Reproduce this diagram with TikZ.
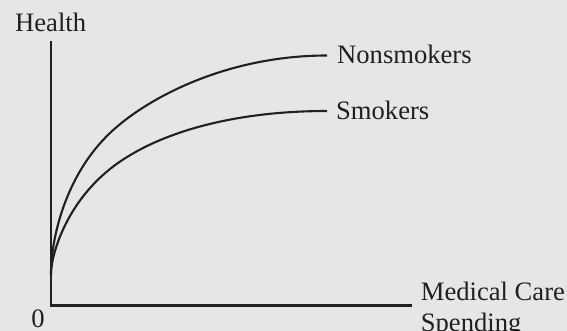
\documentclass[tikz,border=0pt]{standalone}
\usepackage{fontspec}
\setmainfont{Liberation Serif}
\definecolor{bg}{RGB}{230,230,230}
\definecolor{ink}{RGB}{35,31,32}
\begin{document}
\begin{tikzpicture}[x=1pt,y=-1pt,
  axis/.style={draw=ink, line width=2.1pt, line join=miter},
  curve/.style={draw=ink, line width=2.1pt},
  lab/.style={text=ink, inner sep=0pt, font=\fontsize{26.6}{31}\selectfont}]
\fill[bg] (0,0) rectangle (567,331);
\useasboundingbox (0,0) rectangle (567,331);
% axes
\coordinate (top) at (51,41);
\coordinate (origin) at (51,305.5);
\coordinate (right) at (412,305.5);
\draw[axis] (top) -- (origin) -- (right);
% curves
\coordinate (start) at (51,274);
\coordinate (nmid) at (110,133);
\coordinate (nend) at (327,55.5);
\coordinate (smid) at (110,169);
\coordinate (send) at (327,111);
\draw[curve] (start) .. controls (51,239) and (65,175.75) .. (nmid)
  .. controls (147,97.85) and (227,55.5) .. (nend);
\draw[curve] (start) .. controls (51,256) and (65,205) .. (smid)
  .. controls (152,135.4) and (227,111) .. (send);
% labels
\node[lab, anchor=base west] (health) at (15,32) {Health};
\node[lab, anchor=base] (zero) at (38,327) {0};
\node[lab, anchor=base west] (non) at (337,63.3) {Nonsmokers};
\node[lab, anchor=base west] (smk) at (336,119.3) {Smokers};
\node[lab, anchor=base west] (xlab1) at (420.7,300.7) {Medical Care};
\node[lab, anchor=base west] (xlab2) at (420.7,331.5) {Spending};
\end{tikzpicture}
\end{document}
